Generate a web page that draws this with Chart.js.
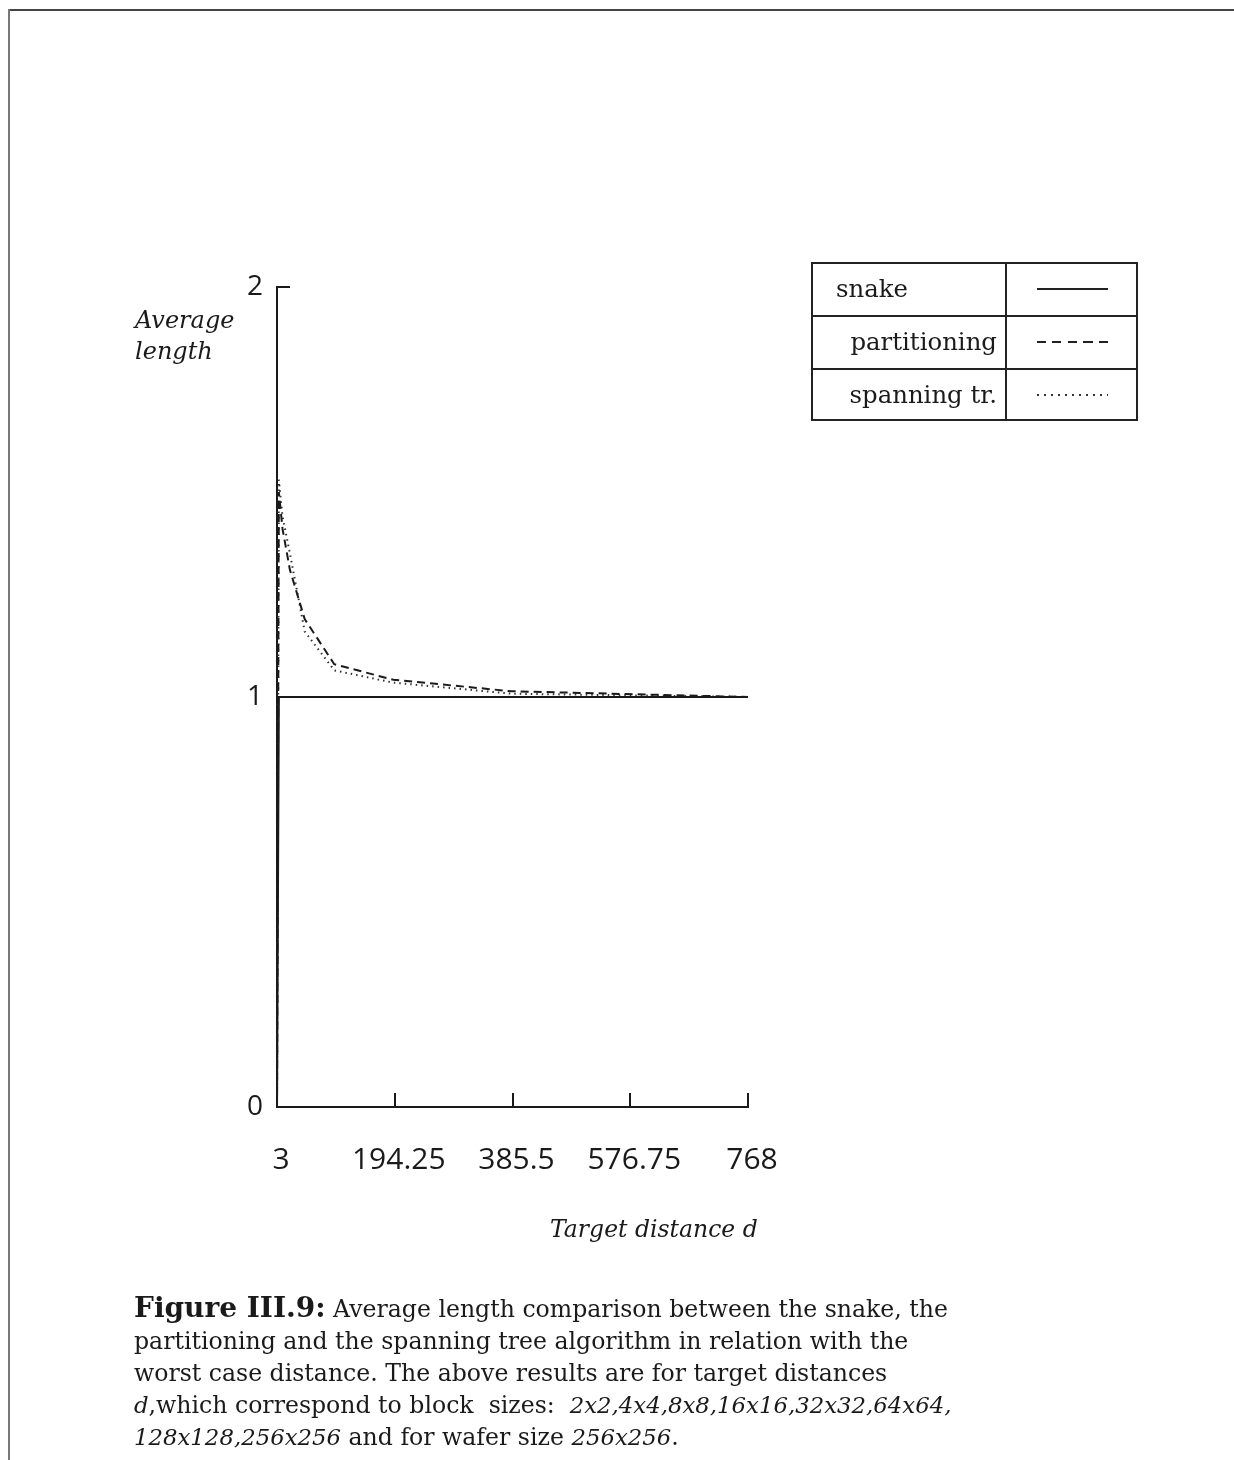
<!DOCTYPE html>
<html>
<head>
<meta charset="utf-8">
<script src="https://cdn.jsdelivr.net/npm/chart.js@4.4.0/dist/chart.umd.min.js"></script>
<style>
  body { margin: 0; background: #fff; }
  #page { position: relative; width: 1234px; height: 1460px; overflow: hidden; background: #fff; }
  #frameTop { position: absolute; left: 8px; top: 9px; width: 1226px; height: 2px; background: #444; }
  #frameLeft { position: absolute; left: 8px; top: 9px; width: 2px; height: 1451px; background: #777; }
  canvas { position: absolute; left: 0; top: 0; }
  .serif { font-family: "DejaVu Serif", serif; color: #1a1a1a; }
  #yTitle { position: absolute; left: 135px; top: 305px; font-size: 24px; font-style: italic; line-height: 31px; }
  #xTitle { position: absolute; left: 550px; top: 1215px; font-size: 23.5px; font-style: italic; }
  #legendBox { position: absolute; left: 811px; top: 262px; width: 327px; height: 159px; box-sizing: border-box; border: 2px solid #222; }
  .hline { position: absolute; left: 0; width: 323px; height: 2px; background: #222; }
  .vline { position: absolute; top: 0; left: 192px; width: 2px; height: 155px; background: #222; }
  .lname { position: absolute; height: 52px; line-height: 50px; font-size: 24.4px; white-space: nowrap; }
  .sw { position: absolute; left: 224px; width: 71px; height: 2px; }
  #caption { position: absolute; left: 134px; top: 1292px; font-size: 23.6px; line-height: 32px; white-space: nowrap; }
  #caption b { font-size: 28px; }
  #caption i { font-size: 22.8px; }
</style>
</head>
<body>
<div id="page">
  <div id="frameTop"></div>
  <div id="frameLeft"></div>
  <canvas id="chart" width="1234" height="1460"></canvas>
  <div id="yTitle" class="serif">Average<br>length</div>
  <div id="xTitle" class="serif">Target distance d</div>
  <div id="legendBox" class="serif">
    <div class="hline" style="top:51px"></div>
    <div class="hline" style="top:104px"></div>
    <div class="vline"></div>
    <div class="lname" style="left:23px;top:0">snake</div>
    <div class="lname" style="right:139px;top:53px">partitioning</div>
    <div class="lname" style="right:139px;top:106px">spanning tr.</div>
    <div class="sw" style="top:24px;background:#222"></div>
    <div class="sw" style="top:77px;background:repeating-linear-gradient(to right,#222 0 9px,transparent 9px 15.5px)"></div>
    <div class="sw" style="top:130px;height:1.5px;background:repeating-linear-gradient(to right,#333 0 1.5px,transparent 1.5px 7px)"></div>
  </div>
  <div id="caption" class="serif">
    <div><b>Figure III.9:</b> Average length comparison between the snake, the</div>
    <div>partitioning and the spanning tree algorithm in relation with the</div>
    <div>worst case distance. The above results are for target distances</div>
    <div><i>d</i>,which correspond to block&nbsp; sizes:&nbsp; <i>2x2,4x4,8x8,16x16,32x32,64x64,</i></div>
    <div><i>128x128,256x256</i> and for wafer size <i>256x256</i>.</div>
  </div>
</div>
<script>
// target distances and average lengths
const distances = [3, 6, 12, 24, 48, 96, 192, 384, 768];
const snakeLength = [0, 1, 1, 1, 1, 1, 1, 1, 1];
const partitioningLength = [0, 1.50, 1.41, 1.31, 1.19, 1.08, 1.042, 1.014, 1.0];
const spanningLength = [0, 1.53, 1.44, 1.35, 1.16, 1.065, 1.035, 1.008, 1.0];

const xTicks = [3, 194.25, 385.5, 576.75, 768];
const yTicks = [0, 1, 2];

const toPoints = (ys) => distances.map((d, i) => ({ x: d, y: ys[i] }));

const ink = '#1a1a1a';

// small tick marks pointing into the plot, like the original figure
const innerTicks = {
  id: 'innerTicks',
  afterDraw(chart) {
    const ctx = chart.ctx;
    const xs = chart.scales.x, ys = chart.scales.y;
    ctx.save();
    ctx.strokeStyle = ink;
    ctx.lineWidth = 2;
    xTicks.slice(1).forEach(v => {
      const px = Math.round(xs.getPixelForValue(v));
      ctx.beginPath();
      ctx.moveTo(px, ys.bottom);
      ctx.lineTo(px, ys.bottom - 14);
      ctx.stroke();
    });
    yTicks.slice(1).forEach(v => {
      const py = Math.round(ys.getPixelForValue(v));
      ctx.beginPath();
      ctx.moveTo(xs.left, py);
      ctx.lineTo(xs.left + 13, py);
      ctx.stroke();
    });
    ctx.restore();
  }
};

const config = {
  type: 'scatter',
  data: {
    datasets: [
      {
        label: 'snake',
        data: toPoints(snakeLength),
        showLine: true,
        borderColor: ink,
        borderWidth: 2,
        pointRadius: 0
      },
      {
        label: 'partitioning',
        data: toPoints(partitioningLength),
        showLine: true,
        borderColor: ink,
        borderWidth: 2,
        borderDash: [8, 5],
        pointRadius: 0
      },
      {
        label: 'spanning tr.',
        data: toPoints(spanningLength),
        showLine: true,
        borderColor: '#333',
        borderWidth: 2,
        borderDash: [1.5, 4],
        pointRadius: 0
      }
    ]
  },
  options: {
    responsive: false,
    animation: false,
    layout: {
      padding: { top: 287, right: 486, left: 0, bottom: 0 }
    },
    plugins: {
      legend: { display: false },
      tooltip: { enabled: false }
    },
    scales: {
      x: {
        type: 'linear',
        min: 3,
        max: 768,
        afterBuildTicks: (scale) => { scale.ticks = xTicks.map(v => ({ value: v })); },
        afterFit: (scale) => { scale.height = 353; },
        ticks: {
          padding: 35,
          labelOffset: 4,
          autoSkip: false,
          maxRotation: 0,
          color: ink,
          font: { family: 'Open Sans', size: 30 },
          callback: (v) => String(v)
        },
        grid: { drawOnChartArea: false, drawTicks: false },
        border: { color: ink, width: 2 }
      },
      y: {
        min: 0,
        max: 2,
        afterBuildTicks: (scale) => { scale.ticks = yTicks.map(v => ({ value: v })); },
        afterFit: (scale) => { scale.width = 277; },
        ticks: {
          padding: 14,
          color: ink,
          font: { family: 'Open Sans', size: 28 },
          callback: (v) => String(v)
        },
        grid: { drawOnChartArea: false, drawTicks: false },
        border: { color: ink, width: 2 }
      }
    }
  },
  plugins: [innerTicks]
};

const lengthChart = new Chart(document.getElementById('chart'), config);
</script>
</body>
</html>
